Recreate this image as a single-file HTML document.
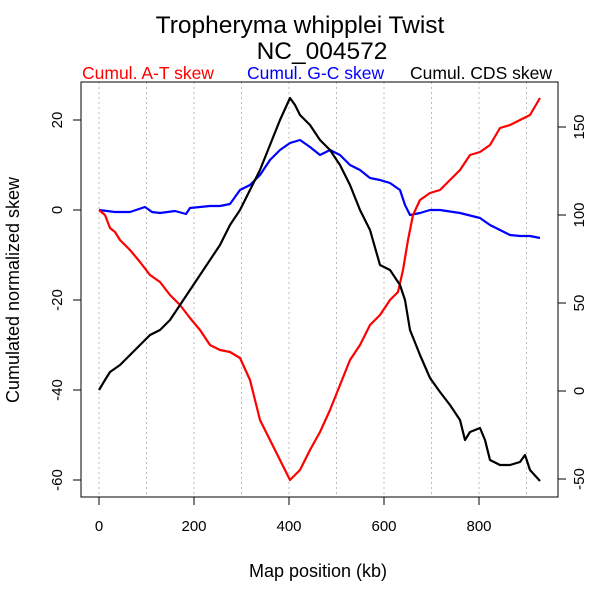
<!DOCTYPE html>
<html><head><meta charset="utf-8"><style>body{margin:0;background:#fff}</style></head><body>
<svg width="600" height="600" xmlns="http://www.w3.org/2000/svg" font-family="Liberation Sans, sans-serif">
<rect width="600" height="600" fill="#fff"/>
<text x="300" y="33" font-size="24.5" text-anchor="middle">Tropheryma whipplei Twist</text>
<text x="322" y="59" font-size="24.5" text-anchor="middle">NC_004572</text>
<text x="82" y="79" font-size="17.5" fill="#f00">Cumul. A-T skew</text>
<text x="247" y="79" font-size="17.5" fill="#00f">Cumul. G-C skew</text>
<text x="410" y="79" font-size="17.5" fill="#000">Cumul. CDS skew</text>
<g stroke="#bbb" stroke-dasharray="2,3" stroke-width="1">
<line x1="146.5" y1="82" x2="146.5" y2="497"/><line x1="194" y1="82" x2="194" y2="497"/><line x1="241.5" y1="82" x2="241.5" y2="497"/><line x1="289" y1="82" x2="289" y2="497"/><line x1="336.5" y1="82" x2="336.5" y2="497"/><line x1="384" y1="82" x2="384" y2="497"/><line x1="431.5" y1="82" x2="431.5" y2="497"/><line x1="479" y1="82" x2="479" y2="497"/><line x1="526.5" y1="82" x2="526.5" y2="497"/><line x1="99" y1="82" x2="99" y2="497"/>
</g>
<rect x="81" y="82" width="477" height="415" fill="none" stroke="#000"/>
<g stroke="#000">
<line x1="99" y1="497" x2="99" y2="505"/><line x1="194" y1="497" x2="194" y2="505"/><line x1="289" y1="497" x2="289" y2="505"/><line x1="384" y1="497" x2="384" y2="505"/><line x1="479" y1="497" x2="479" y2="505"/>
<line x1="73" y1="120" x2="81" y2="120"/><line x1="73" y1="210" x2="81" y2="210"/><line x1="73" y1="300" x2="81" y2="300"/><line x1="73" y1="390" x2="81" y2="390"/><line x1="73" y1="480" x2="81" y2="480"/>
<line x1="558" y1="127" x2="566" y2="127"/><line x1="558" y1="215" x2="566" y2="215"/><line x1="558" y1="303" x2="566" y2="303"/><line x1="558" y1="391" x2="566" y2="391"/><line x1="558" y1="479" x2="566" y2="479"/>
</g>
<g font-size="15" text-anchor="middle">
<text x="99" y="531">0</text><text x="194" y="531">200</text><text x="289" y="531">400</text><text x="384" y="531">600</text><text x="479" y="531">800</text>
<text transform="translate(62,120) rotate(-90)">20</text><text transform="translate(62,210) rotate(-90)">0</text><text transform="translate(62,300) rotate(-90)">-20</text><text transform="translate(62,390) rotate(-90)">-40</text><text transform="translate(62,480) rotate(-90)">-60</text>
<text transform="translate(584,127) rotate(-90)">150</text><text transform="translate(584,215) rotate(-90)">100</text><text transform="translate(584,303) rotate(-90)">50</text><text transform="translate(584,391) rotate(-90)">0</text><text transform="translate(584,479) rotate(-90)">-50</text>
</g>
<text x="318" y="577" font-size="18" text-anchor="middle">Map position (kb)</text>
<text transform="translate(19,290) rotate(-90)" font-size="18" text-anchor="middle">Cumulated normalized skew</text>
<g fill="none" stroke-width="2.2" stroke-linejoin="round">
<polyline stroke="#00f" points="99,210 115,212 130,212 145,207 152,212 160,213 175,211 186,214 190,208 200,207 210,206 220,206 230,204 240,190 250,185 260,175 270,160 280,150 290,143 300,140 310,147 320,155 330,150 340,155 350,165 360,170 370,178 380,180 390,183 400,190 405,205 410,215 420,213 430,210 440,210 460,213 480,218 490,225 500,230 510,235 520,236 530,236 540,238"/>
<polyline stroke="#f00" points="99,210 105,215 110,228 115,232 120,240 130,250 140,262 150,275 160,282 170,295 180,305 190,318 200,330 210,345 220,350 230,352 240,358 250,380 260,420 270,440 280,460 290,480 300,470 310,450 320,432 330,410 340,385 350,360 360,345 370,325 380,315 390,300 398,292 403,270 408,240 413,215 420,200 430,193 440,190 450,180 460,170 470,155 480,152 490,145 500,128 510,125 520,120 530,115 540,98"/>
<polyline stroke="#000" points="99,390 105,380 110,372 120,365 130,355 140,345 150,335 160,330 170,320 180,305 190,290 200,275 210,260 220,245 230,225 240,210 250,190 260,170 270,145 280,120 290,98 295,105 300,115 310,125 320,140 330,150 340,165 350,185 360,210 370,230 380,265 390,270 400,285 405,300 410,330 420,355 430,378 440,392 450,405 460,420 465,440 470,432 480,428 485,440 490,460 500,465 510,465 520,462 525,455 530,470 540,481"/>
</g>
</svg>
</body></html>
